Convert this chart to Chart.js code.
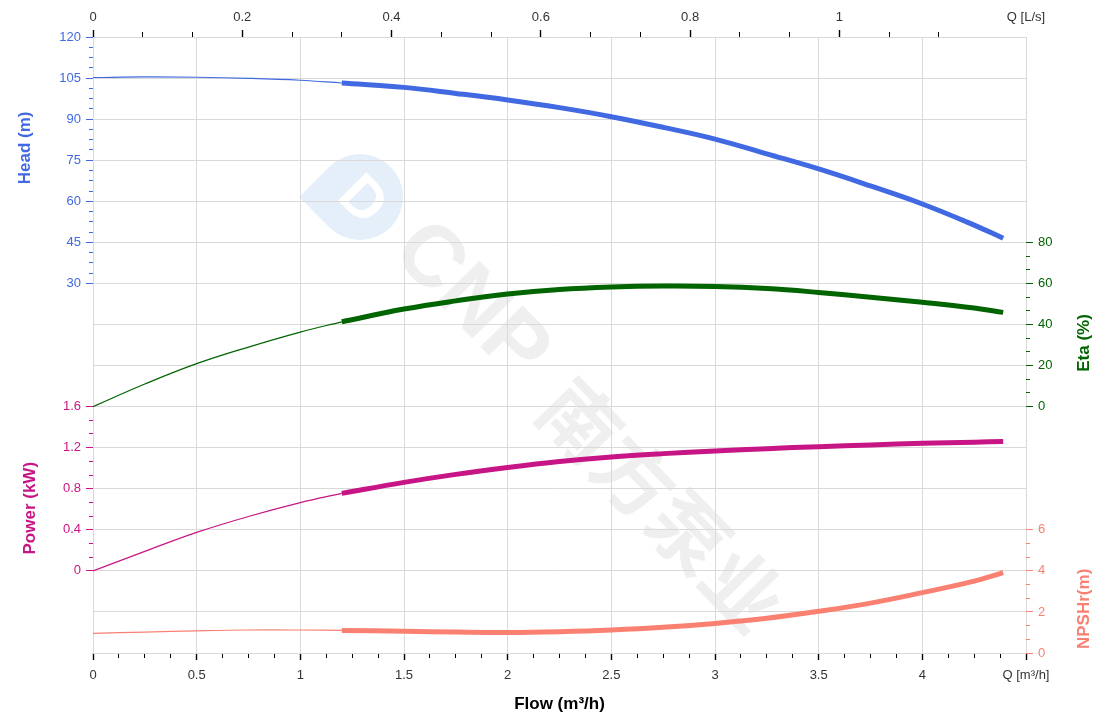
<!DOCTYPE html>
<html>
<head>
<meta charset="utf-8">
<script src="https://cdn.jsdelivr.net/npm/chart.js@4.4.1/dist/chart.umd.min.js"></script>
<style>
  html, body { margin: 0; padding: 0; background: #fff; }
  #wrap { width: 1120px; height: 718px; }
</style>
</head>
<body>
<div id="wrap"><canvas id="pumpChart"></canvas></div>
<script>
// flow (m3/h): thin part before the working range, thick part inside it
const flowThin = [0, 0.25, 0.5, 0.75, 1.0, 1.2];
const flowThick = [1.2, 1.5, 1.75, 2.0, 2.25, 2.5, 2.75, 3.0, 3.25, 3.5, 3.75, 4.0, 4.25, 4.39];

const headThin = [105.2, 105.4, 105.3, 104.9, 104.2, 103.2];
const headThick = [103.2, 101.6, 99.4, 97.0, 94.2, 90.9, 87.0, 82.7, 77.3, 71.8, 65.6, 59.0, 51.3, 46.5];
const etaThin = [0, 11.0, 20.9, 29.0, 36.3, 41.3];
const etaThick = [41.3, 47.5, 51.5, 54.8, 57.0, 58.2, 58.7, 58.5, 57.5, 55.6, 53.3, 50.8, 48.0, 45.9];
const powerThin = [0, 0.19, 0.375, 0.53, 0.665, 0.755];
const powerThick = [0.755, 0.862, 0.94, 1.007, 1.065, 1.11, 1.142, 1.167, 1.19, 1.21, 1.227, 1.242, 1.253, 1.261];
const npshThin = [0.96, 1.02, 1.08, 1.12, 1.12, 1.1];
const npshThick = [1.1, 1.06, 1.02, 1.0, 1.04, 1.12, 1.25, 1.44, 1.69, 2.03, 2.43, 2.94, 3.5, 3.91];

// tick labels
const flowTicks = [0, 0.5, 1, 1.5, 2, 2.5, 3, 3.5, 4, 4.5];
const flowLabels = ['0', '0.5', '1', '1.5', '2', '2.5', '3', '3.5', '4', 'Q [m³/h]'];
const qlsTicks = [0, 0.2, 0.4, 0.6, 0.8, 1];
const qlsLabels = ['0', '0.2', '0.4', '0.6', '0.8', '1'];
const headTicks = [30, 45, 60, 75, 90, 105, 120];
const powerTicks = [0, 0.4, 0.8, 1.2, 1.6];
const etaTicks = [0, 20, 40, 60, 80];
const npshTicks = [0, 2, 4, 6];
const headGrid = [0, 15, 30, 45, 60, 75, 90, 105, 120];
const powerGrid = [-0.8, -0.4, 0, 0.4, 0.8, 1.2, 1.6, 2.0];

const headColor = '#4169E1';
const etaColor = '#006400';
const powerColor = '#C71585';
const npshColor = '#FA8072';
const gridColor = '#d9d9d9';

Chart.defaults.font.family = '"Liberation Sans", Arial, sans-serif';

// tick list: labelled majors, minor marks in between, extra grid-only lines
function makeTicks(values, labels, subdiv, gridValues) {
  const list = [];
  values.forEach((v, i) => list.push({ value: v, kind: 'major', text: labels ? labels[i] : String(v) }));
  for (let i = 0; i < values.length - 1; i++) {
    const a = values[i], b = values[i + 1];
    for (let k = 1; k < subdiv; k++) {
      list.push({ value: a + (b - a) * k / subdiv, kind: 'minor', text: '' });
    }
  }
  (gridValues || []).forEach(v => {
    if (!values.some(m => Math.abs(m - v) < 1e-9)) list.push({ value: v, kind: 'grid', text: '' });
  });
  return list.sort((p, q) => p.value - q.value);
}

function pts(xs, ys) {
  return xs.map((x, i) => ({ x: x, y: ys[i] }));
}

function line(label, data, yAxisID, color, width) {
  return {
    label: label,
    data: data,
    yAxisID: yAxisID,
    xAxisID: 'x',
    borderColor: color,
    borderWidth: width,
    borderCapStyle: 'butt',
    pointRadius: 0,
    tension: 0.4,
    fill: false
  };
}

// shared option pieces for the value axes
function yAxis(pos, stackWeight, min, max, color, tickFn, drawGrid) {
  const minorDash = pos === 'left' ? [0, 3, 4, 100] : [4, 100];
  return {
    type: 'linear',
    position: pos,
    stack: pos,
    stackWeight: stackWeight,
    min: min,
    max: max,
    afterBuildTicks: s => { s.ticks = tickFn(); },
    afterFit: s => { s.width = pos === 'left' ? 93 : 94; },
    border: { display: false },
    grid: {
      drawOnChartArea: drawGrid,
      color: c => (c.tick && c.tick.kind !== 'minor') ? gridColor : 'rgba(0,0,0,0)',
      tickColor: c => (c.tick && c.tick.kind === 'grid') ? 'rgba(0,0,0,0)' : color,
      tickLength: 7,
      tickBorderDash: c => (c.tick && c.tick.kind === 'minor') ? minorDash : []
    },
    ticks: {
      autoSkip: false,
      padding: 5,
      color: color,
      font: { size: 13 },
      callback: (v, i, t) => t[i].text
    }
  };
}

const decor = {
  id: 'decor',
  beforeDraw(chart) {
    const ctx = chart.ctx;
    ctx.save();
    ctx.fillStyle = '#fff';
    ctx.fillRect(0, 0, chart.width, chart.height);

    // CNP watermark
    ctx.save();
    ctx.translate(360, 197);
    ctx.rotate(Math.PI / 4);
    ctx.fillStyle = '#e4eff9';
    ctx.beginPath();
    ctx.arc(0, 0, 43, 0, Math.PI * 2);
    ctx.fill();
    ctx.fillRect(-43, 0, 43, 43);
    ctx.fillStyle = '#fff';
    ctx.font = 'bold 58px "Liberation Sans", Arial, sans-serif';
    ctx.textAlign = 'center';
    ctx.textBaseline = 'middle';
    ctx.fillText('D', 4, 2);
    ctx.restore();

    ctx.fillStyle = '#efefef';
    ctx.textAlign = 'center';
    ctx.textBaseline = 'middle';
    ctx.save();
    ctx.translate(470, 302);
    ctx.rotate(Math.PI / 4 * 1.02);
    ctx.font = 'bold 86px "Liberation Sans", Arial, sans-serif';
    ctx.fillText('CNP', 0, 0);
    ctx.restore();
    ctx.save();
    ctx.translate(662, 505);
    ctx.rotate(Math.PI / 4 * 1.02);
    ctx.font = 'bold 78px "Noto Sans CJK SC", sans-serif';
    ctx.fillText('南方泵业', 0, 0);
    ctx.restore();
    ctx.restore();
  },
  afterDraw(chart) {
    const ctx = chart.ctx;
    const s = chart.scales;
    function vTitle(text, x, y, color) {
      ctx.save();
      ctx.translate(x, y);
      ctx.rotate(-Math.PI / 2);
      ctx.textAlign = 'center';
      ctx.textBaseline = 'middle';
      ctx.fillStyle = color;
      ctx.font = 'bold 17px "Liberation Sans", Arial, sans-serif';
      ctx.fillText(text, 0, 0);
      ctx.restore();
    }
    vTitle('Head (m)', 25, s.yHead.getPixelForValue(79.5), headColor);
    vTitle('Power (kW)', 30, s.yPower.getPixelForValue(0.61), powerColor);
    vTitle('Eta (%)', 1084, s.yEta.getPixelForValue(31), etaColor);
    vTitle('NPSHr(m)', 1084, s.yNpsh.getPixelForValue(2.15), npshColor);
  }
};

const config = {
  type: 'line',
  data: {
    datasets: [
      line('Head thin', pts(flowThin, headThin), 'yHead', headColor, 1.2),
      line('Head', pts(flowThick, headThick), 'yHead', headColor, 5),
      line('Eta thin', pts(flowThin, etaThin), 'yEta', etaColor, 1.2),
      line('Eta', pts(flowThick, etaThick), 'yEta', etaColor, 5),
      line('Power thin', pts(flowThin, powerThin), 'yPower', powerColor, 1.2),
      line('Power', pts(flowThick, powerThick), 'yPower', powerColor, 5),
      line('NPSH thin', pts(flowThin, npshThin), 'yNpsh', npshColor, 1.2),
      line('NPSH', pts(flowThick, npshThick), 'yNpsh', npshColor, 5)
    ]
  },
  options: {
    responsive: true,
    maintainAspectRatio: false,
    animation: false,
    devicePixelRatio: 1,
    layout: { padding: 0 },
    plugins: {
      legend: { display: false },
      tooltip: { enabled: false }
    },
    scales: {
      x: {
        type: 'linear',
        position: 'bottom',
        min: 0,
        max: 4.5,
        afterBuildTicks: s => { s.ticks = makeTicks(flowTicks, flowLabels, 4); },
        afterFit: s => { s.height = 65; },
        border: { display: false },
        grid: {
          color: c => (c.tick && c.tick.kind === 'major') ? gridColor : 'rgba(0,0,0,0)',
          tickColor: '#000',
          tickLength: 7,
          tickWidth: c => (c.tick && c.tick.kind === 'major') ? 1.4 : 1,
          tickBorderDash: c => (c.tick && c.tick.kind === 'minor') ? [5, 100] : []
        },
        ticks: {
          autoSkip: false,
          maxRotation: 0,
          padding: 8,
          color: '#333',
          font: { size: 13 },
          callback: (v, i, t) => t[i].text
        },
        title: {
          display: true,
          text: 'Flow (m³/h)',
          color: '#000',
          font: { size: 17, weight: 'bold' },
          padding: { top: 0, bottom: 3 }
        }
      },
      xq: {
        type: 'linear',
        position: 'top',
        min: 0,
        max: 1.25,
        afterBuildTicks: s => {
          const t = makeTicks(qlsTicks.concat([1.2]), qlsLabels.concat(['']), 3);
          t.forEach(k => { if (Math.abs(k.value - 1.2) < 1e-9) k.kind = 'label'; });
          t.push({ value: 1.25, kind: 'label', text: 'Q [L/s]' });
          s.ticks = t;
        },
        afterFit: s => { s.height = 37; },
        border: { display: false },
        grid: {
          drawOnChartArea: false,
          tickColor: c => (c.tick && c.tick.kind === 'label') ? 'rgba(0,0,0,0)' : '#000',
          tickLength: 7,
          tickWidth: c => (c.tick && c.tick.kind === 'major') ? 1.4 : 1,
          tickBorderDash: c => (c.tick && c.tick.kind === 'minor') ? [0, 2, 5, 100] : []
        },
        ticks: {
          autoSkip: false,
          maxRotation: 0,
          padding: 5,
          color: '#333',
          font: { size: 13 },
          callback: (v, i, t) => t[i].text
        }
      },
      // left stack is laid out in reverse order, so power goes first to end up below head
      yPower: yAxis('left', 7, -0.8, 2.0, powerColor, () => makeTicks(powerTicks, null, 3, powerGrid), true),
      yHead: yAxis('left', 8, 0, 120, headColor, () => makeTicks(headTicks, null, 4, headGrid), true),
      yEta: yAxis('right', 11, -40, 180, etaColor, () => makeTicks(etaTicks, null, 3), false),
      yNpsh: yAxis('right', 4, 0, 8, npshColor, () => makeTicks(npshTicks, null, 3), false)
    }
  },
  plugins: [decor]
};

const pumpChart = new Chart(document.getElementById('pumpChart'), config);
</script>
</body>
</html>
